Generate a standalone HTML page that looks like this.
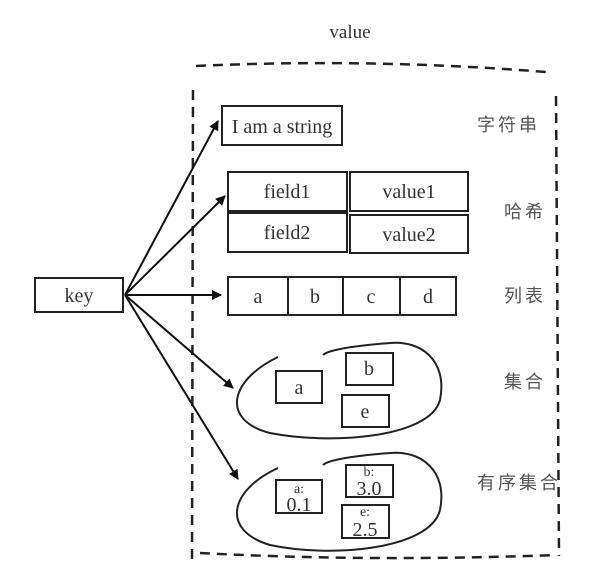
<!DOCTYPE html>
<html><head><style>
body{margin:0;background:#fff;}
svg text{font-family:"Liberation Serif",serif;fill:#333;}
.cj{font-family:"Liberation Sans","Noto Sans CJK SC",sans-serif;fill:#555;font-size:18px;letter-spacing:3px}
</style></head><body>
<svg width="605" height="577" viewBox="0 0 605 577" xmlns="http://www.w3.org/2000/svg">
<defs><marker id="a" markerWidth="10" markerHeight="10" refX="9" refY="5" orient="auto" markerUnits="userSpaceOnUse"><path d="M0,0 L10,5 L0,10z" fill="#111"/></marker></defs>
<text x="350" y="38" font-size="19" text-anchor="middle">value</text>
<g fill="none" stroke="#222" stroke-width="2.5" stroke-dasharray="10,7">
<path d="M196,66 Q370,58 546,72"/>
<path d="M193,90 L192,560"/>
<path d="M556,96 L559,556"/>
<path d="M200,553 Q370,562 556,555"/>
</g>
<g fill="none" stroke="#222" stroke-width="2">
<rect x="35" y="278" width="88" height="34"/>
<rect x="222" y="106" width="120" height="39"/>
<rect x="228" y="172" width="119" height="39"/>
<rect x="350" y="172" width="118" height="39"/>
<rect x="228" y="213" width="119" height="39"/>
<rect x="350" y="215" width="118" height="38"/>
<rect x="228" y="277" width="60" height="38"/>
<rect x="288" y="277" width="55" height="38"/>
<rect x="343" y="277" width="57" height="38"/>
<rect x="400" y="277" width="56" height="38"/>
<rect x="276" y="371" width="46" height="32"/>
<rect x="346" y="353" width="47" height="32"/>
<rect x="342" y="395" width="47" height="32"/>
<rect x="276" y="480" width="46" height="33"/>
<rect x="346" y="465" width="47" height="32"/>
<rect x="342" y="505" width="47" height="33"/>
<path d="M278,357 C230,380 220,420 270,433 C330,445 430,438 440,400 C448,360 420,340 390,343 C375,344 330,348 323,355"/>
<path d="M278,468 C230,490 220,530 270,545 C330,558 430,550 440,510 C448,470 420,450 390,453 C375,454 330,458 323,465"/>
</g>
<g stroke="#111" stroke-width="2" marker-end="url(#a)">
<line x1="125" y1="295" x2="218" y2="121"/>
<line x1="125" y1="295" x2="225" y2="196"/>
<line x1="125" y1="295" x2="221" y2="295"/>
<line x1="125" y1="295" x2="233" y2="388"/>
<line x1="125" y1="295" x2="238" y2="479"/>
</g>
<g font-size="20" text-anchor="middle">
<text x="79" y="302">key</text>
<text x="282" y="133">I am a string</text>
<text x="287" y="198">field1</text>
<text x="409" y="198">value1</text>
<text x="287" y="239">field2</text>
<text x="409" y="241">value2</text>
<text x="258" y="303">a</text>
<text x="315" y="303">b</text>
<text x="371" y="303">c</text>
<text x="428" y="303">d</text>
<text x="299" y="394">a</text>
<text x="369" y="375">b</text>
<text x="365" y="418">e</text>
<text x="299" y="493" font-size="14">a:</text>
<text x="299" y="511">0.1</text>
<text x="369" y="476" font-size="14">b:</text>
<text x="369" y="495">3.0</text>
<text x="365" y="516" font-size="14">e:</text>
<text x="365" y="536">2.5</text>
</g>
<text class="cj" x="477" y="131">字符串</text>
<text class="cj" x="504" y="218">哈希</text>
<text class="cj" x="504" y="302">列表</text>
<text class="cj" x="504" y="388">集合</text>
<text class="cj" x="477" y="489">有序集合</text>
</svg>
</body></html>
